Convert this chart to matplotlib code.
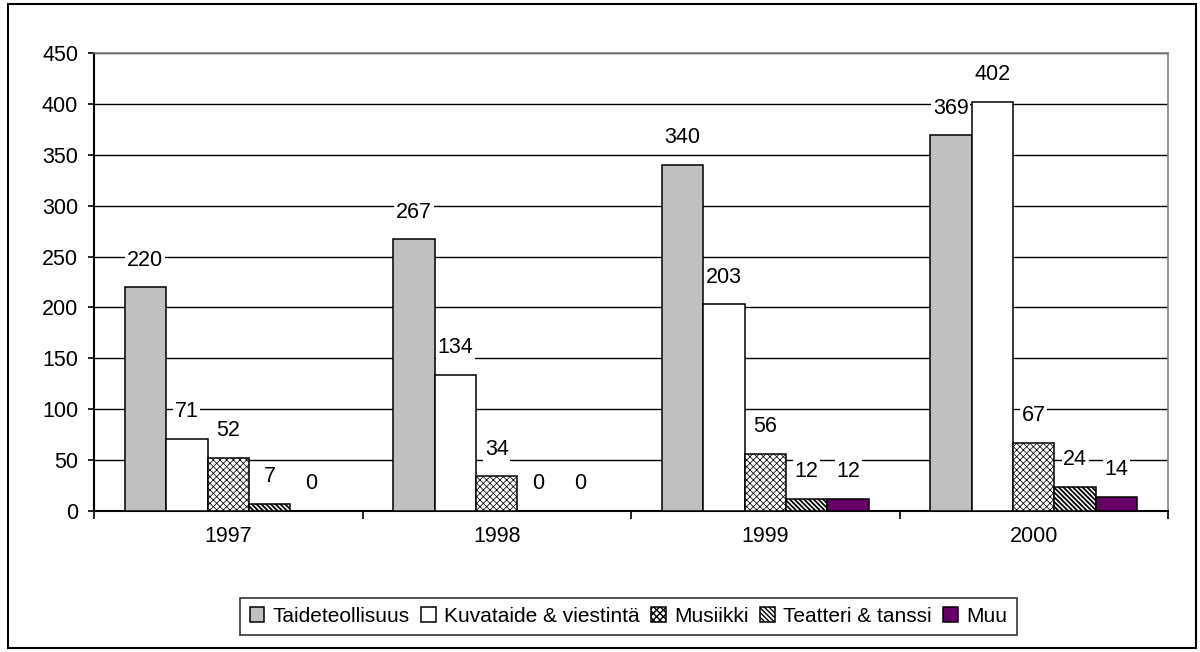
import matplotlib
matplotlib.use('Agg')
import matplotlib.pyplot as plt
import numpy as np
from matplotlib.patches import Rectangle

plt.rcParams['font.family'] = ['Liberation Sans', 'DejaVu Sans']
plt.rcParams['hatch.color'] = 'black'

years = ['1997', '1998', '1999', '2000']
series = ['Taideteollisuus', 'Kuvataide & viestintä', 'Musiikki', 'Teatteri & tanssi', 'Muu']
taide = [220, 267, 340, 369]
kuva = [71, 134, 203, 402]
musiikki = [52, 34, 56, 67]
teatteri = [7, 0, 12, 24]
muu = [0, 0, 12, 14]
values = [taide, kuva, musiikki, teatteri, muu]

colors = ['#c0c0c0', 'white', 'white', 'white', '#660066']
hatches = [None, None, 'xxxxx', '\\\\\\\\\\\\\\', None]
hatch_lw = [1.0, 1.0, 0.55, 1.3, 1.0]

fig = plt.figure(figsize=(12, 6.52), dpi=100)
ax = fig.add_axes([94/1200, 1-511/652, (1168-94)/1200, (511-53)/652])

x = np.arange(len(years)) + 0.5
w = 0.1545
for j, (name, vals) in enumerate(zip(series, values)):
    plt.rcParams['hatch.linewidth'] = hatch_lw[j]
    pos = x + (j - 2) * w
    ax.bar(pos, vals, width=w, color=colors[j], edgecolor='black',
           linewidth=1.1, hatch=hatches[j], label=name, zorder=3)
    for p, v in zip(pos, vals):
        ax.annotate(str(v), (p, v), xytext=(0, 19.5), textcoords='offset points',
                    ha='center', va='center', fontsize=15.5, zorder=5,
                    bbox=dict(boxstyle='square,pad=0.08', fc='white', ec='none'))

ax.set_xlim(0, 4)
ax.set_ylim(0, 450)
ax.set_yticks(np.arange(0, 451, 50))
ax.yaxis.grid(True, color='black', linewidth=1.0, zorder=0)
ax.set_axisbelow(True)
ax.set_xticks(np.arange(0, 5))
ax.set_xticklabels([])
ax.set_xticks(x, minor=True)
ax.set_xticklabels(years, minor=True)
ax.tick_params(axis='x', which='minor', length=0, pad=11, labelsize=15.5)
ax.tick_params(axis='x', which='major', length=6, width=1.2, direction='out')
ax.tick_params(axis='y', length=4.5, width=1.2, direction='out', labelsize=15.5, pad=7)

for s in ['top', 'right']:
    ax.spines[s].set_color('#808080')
    ax.spines[s].set_linewidth(1.2)
for s in ['left', 'bottom']:
    ax.spines[s].set_color('black')
    ax.spines[s].set_linewidth(1.5)

leg = ax.legend(loc='center', bbox_to_anchor=(628.5/1200, 1-616.5/652),
                bbox_transform=fig.transFigure, ncol=5, fontsize=15,
                frameon=True, fancybox=False, edgecolor='black',
                handlelength=0.7, handleheight=0.7, handletextpad=0.4,
                columnspacing=0.55, borderpad=0.45, borderaxespad=0)
leg.get_frame().set_linewidth(1.2)

fig.patches.append(Rectangle((8/1200, 4/652), 1188/1200, 644/652,
                             transform=fig.transFigure, fill=False,
                             edgecolor='black', linewidth=1.5))

fig.savefig('out.png', dpi=100)
plt.close(fig)
